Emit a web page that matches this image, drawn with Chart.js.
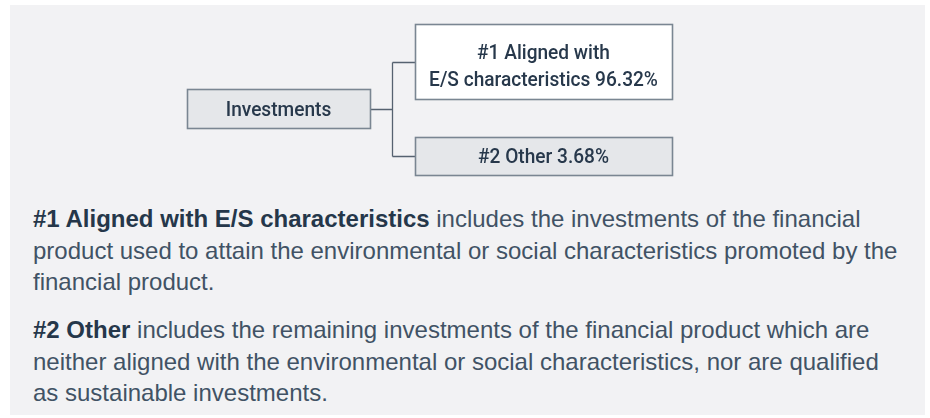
<!DOCTYPE html>
<html>
<head>
<meta charset="utf-8">
<script src="https://cdn.jsdelivr.net/npm/chart.js@4.4.1/dist/chart.umd.min.js"></script>
<style>
  html, body { margin: 0; padding: 0; background: #ffffff; }
  #stage { position: relative; width: 930px; height: 418px; overflow: hidden; }
  #panel { position: absolute; left: 10px; top: 5px; width: 915px; height: 410px; background: #f2f2f4; }
  #chartBox { position: absolute; left: 0; top: 0; width: 930px; height: 190px; }
  .para { position: absolute; left: 33px; white-space: nowrap; font-family: "Liberation Sans", Arial, sans-serif;
          font-size: 24px; line-height: 31.5px; color: #415265; }
  .para b { color: #25374a; font-weight: bold; }
</style>
</head>
<body>
<div id="stage">
  <div id="panel"></div>
  <div id="chartBox"><canvas id="c"></canvas></div>
  <div class="para" id="p1" style="top:203px"></div>
  <div class="para" id="p2" style="top:314px"></div>
</div>
<script>
// ---- data ----
const rootLabel = "Investments";
const categories = ["#1 Aligned with E/S characteristics", "#2 Other"];
const categoryLines = [["#1 Aligned with", "E/S characteristics"], ["#2 Other"]];
const values = [96.32, 3.68];
const descriptions = [
  ["includes the investments of the financial", "product used to attain the environmental or social characteristics promoted by the", "financial product."],
  ["includes the remaining investments of the financial product which are", "neither aligned with the environmental or social characteristics, nor are qualified", "as sustainable investments."]
];

// ---- layout (diagram geometry, in scale units) ----
const LAYOUT = {
  root: { x0: 187, x1: 370, y0: 89, y1: 128, fill: "#e5e7ea", shift: 0 },
  nodes: [
    { x0: 415, x1: 672, y0: 24, y1: 99, fill: "#ffffff", shift: 4 },
    { x0: 415, x1: 672, y0: 137, y1: 175, fill: "#e5e7ea", shift: 0 }
  ],
  trunkX: 392,
  lineH: 27,
  fontPx: 21,
  squeeze: 0.91
};

// paragraphs
function esc(s){ return s.replace(/&/g,"&amp;").replace(/</g,"&lt;"); }
["p1","p2"].forEach((id, i) => {
  const lines = descriptions[i].slice();
  const first = "<b>" + esc(categories[i]) + "</b> " + esc(lines[0]);
  document.getElementById(id).innerHTML = [first].concat(lines.slice(1).map(esc)).join("<br>");
});

const treePlugin = {
  id: "tree",
  afterDraw(chart) {
    const ctx = chart.ctx, xs = chart.scales.x, ys = chart.scales.y;
    const X = v => Math.round(xs.getPixelForValue(v)) + 0.5;
    const Y = v => Math.round(ys.getPixelForValue(v)) + 0.5;
    ctx.save();
    function box(b) {
      const x0 = X(b.x0), x1 = X(b.x1), y0 = Y(b.y0), y1 = Y(b.y1);
      ctx.fillStyle = b.fill;
      ctx.fillRect(x0, y0, x1 - x0, y1 - y0);
      ctx.strokeStyle = "#7a8692";
      ctx.lineWidth = 1.6;
      ctx.strokeRect(x0, y0, x1 - x0, y1 - y0);
    }
    function text(lines, b) {
      ctx.save();
      ctx.fillStyle = "#27384b";
      ctx.font = "500 " + LAYOUT.fontPx + "px Roboto, 'Liberation Sans', Arial, sans-serif";
      ctx.textAlign = "center";
      ctx.textBaseline = "alphabetic";
      const cx = (xs.getPixelForValue(b.x0) + xs.getPixelForValue(b.x1)) / 2;
      const cy = (ys.getPixelForValue(b.y0) + ys.getPixelForValue(b.y1)) / 2 + b.shift;
      const capHalf = LAYOUT.fontPx * 0.711 / 2;
      const lh = LAYOUT.lineH;
      ctx.translate(cx, 0);
      ctx.scale(LAYOUT.squeeze, 1);
      lines.forEach((t, k) => {
        ctx.fillText(t, 0, cy + capHalf + (k - (lines.length - 1) / 2) * lh);
      });
      ctx.restore();
    }
    // connectors
    ctx.strokeStyle = "#566270";
    ctx.lineWidth = 1.3;
    const rb = LAYOUT.root;
    const rootMid = Y((rb.y0 + rb.y1) / 2);
    const mids = LAYOUT.nodes.map(n => Y((n.y0 + n.y1) / 2));
    ctx.beginPath();
    ctx.moveTo(X(rb.x1), rootMid); ctx.lineTo(X(LAYOUT.trunkX), rootMid);
    ctx.moveTo(X(LAYOUT.trunkX), Math.min(...mids)); ctx.lineTo(X(LAYOUT.trunkX), Math.max(...mids));
    LAYOUT.nodes.forEach((n, i) => { ctx.moveTo(X(LAYOUT.trunkX), mids[i]); ctx.lineTo(X(n.x0), mids[i]); });
    ctx.stroke();
    box(rb);
    text([rootLabel], rb);
    LAYOUT.nodes.forEach((n, i) => {
      box(n);
      const lines = categoryLines[i].slice();
      lines[lines.length - 1] += " " + values[i].toFixed(2) + "%";
      text(lines, n);
    });
    ctx.restore();
  }
};

new Chart(document.getElementById("c"), {
  type: "scatter",
  data: { datasets: [{ label: "share", data: [] }] },
  options: {
    responsive: true,
    maintainAspectRatio: false,
    animation: false,
    layout: { padding: 0 },
    plugins: { legend: { display: false }, tooltip: { enabled: false } },
    scales: {
      x: { type: "linear", min: 0, max: 930, display: false },
      y: { type: "linear", min: 0, max: 190, reverse: true, display: false }
    }
  },
  plugins: [treePlugin]
});
</script>
</body>
</html>
